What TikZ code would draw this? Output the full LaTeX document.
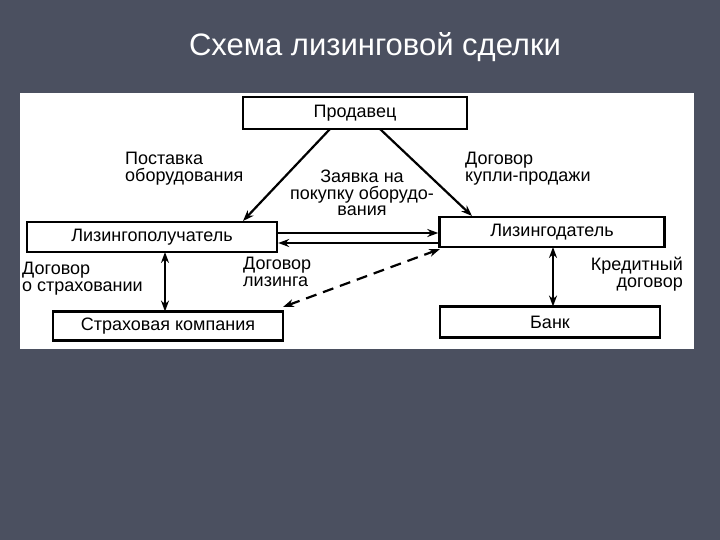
\documentclass[tikz,border=0pt]{standalone}
\usepackage{fontspec}
\setmainfont{Liberation Sans}
\usetikzlibrary{arrows.meta}
\definecolor{bg}{HTML}{4B5060}
\begin{document}
\begin{tikzpicture}[x=1pt,y=-1pt,
  box/.style={draw,line width=2.4pt,fill=white,inner sep=0pt},
  lbl/.style={font=\fontsize{18}{16.5}\selectfont,align=left,inner sep=0pt},
  arr/.style={line width=2.2pt,-{Stealth[length=11pt,width=8pt]}},
  darr/.style={line width=2.2pt,{Stealth[length=11pt,width=8pt]}-{Stealth[length=11pt,width=8pt]}}]
\fill[bg] (0,0) rectangle (720,540);
\useasboundingbox (0,0) rectangle (720,540);
\node[text=white,font=\fontsize{31}{31}\selectfont] (title) at (375,47) {Схема лизинговой сделки};
\fill[white] (20,93) rectangle (694,349);
\begin{scope}[font=\fontsize{18}{18}\selectfont]
\node[box,minimum width=224pt,minimum height=32pt] (s) at (355,113) {Продавец};
\node[box,minimum width=250pt,minimum height=30pt] (l) at (152,237) {Лизингополучатель};
\node[box,minimum width=225pt,minimum height=30pt] (d) at (552,232) {Лизингодатель};
\node[box,minimum width=230pt,minimum height=29pt] (k) at (168,326) {Страховая компания};
\node[box,minimum width=220pt,minimum height=31pt] (b) at (550,322) {Банк};
\end{scope}
\coordinate (s1) at (330,129); \coordinate (l1) at (243,221);
\coordinate (s2) at (380,129); \coordinate (d1) at (472,216);
\draw[arr] (s1) -- (l1);
\draw[arr] (s2) -- (d1);
\draw[arr] (l.east |- 0,233) -- (d.west |- 0,233);
\draw[arr] (d.west |- 0,243) -- (l.east |- 0,243);
\draw[darr] (165,252) -- (165,311.5);
\draw[darr] (553,247) -- (553,306.5);
\draw[darr,dashed,dash pattern=on 11pt off 7pt] (283,307) -- (440,249);
\node[lbl,anchor=north west] (t1) at (125,152) {Поставка\\оборудования};
\node[lbl,align=center,anchor=north] (t2) at (362,170) {Заявка на\\покупку оборудо-\\вания};
\node[lbl,anchor=north west] (t3) at (465,152) {Договор\\купли-продажи};
\node[lbl,anchor=north west] (t4) at (22,262) {Договор\\о страховании};
\node[lbl,anchor=north west] (t5) at (243,257) {Договор\\лизинга};
\node[lbl,align=right,anchor=north east] (t6) at (683,257) {Кредитный\\договор};
\end{tikzpicture}
\end{document}
